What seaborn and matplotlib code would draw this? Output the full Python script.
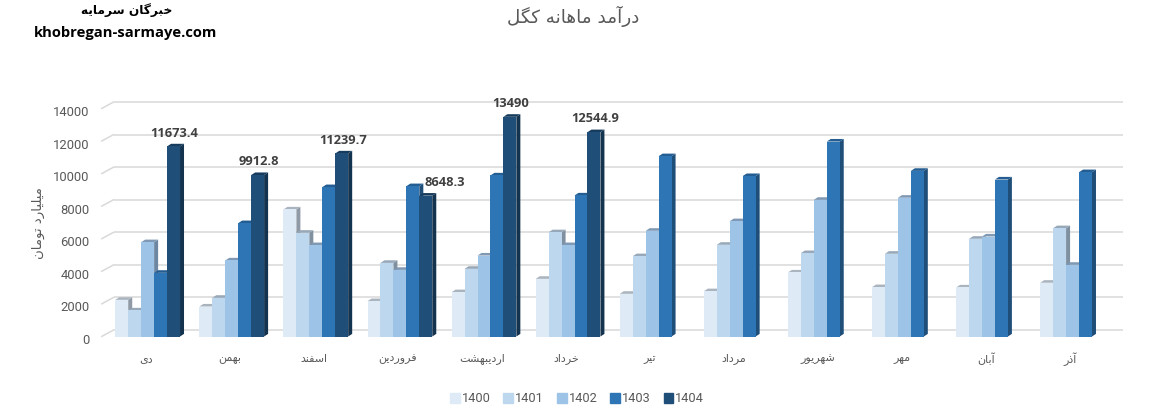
import numpy as np
import pandas as pd
import seaborn as sns
import matplotlib.pyplot as plt
from matplotlib.patches import Polygon, Patch
from matplotlib.transforms import Affine2D, IdentityTransform

months = ["دی", "بهمن", "اسفند", "فروردین", "اردیبهشت", "خرداد", "تیر", "مرداد", "شهریور", "مهر", "آبان", "آذر"]
years = ["1400", "1401", "1402", "1403", "1404"]
v1400 = [2250, 1840, 7800, 2170, 2720, 3540, 2620, 2780, 3930, 3030, 3010, 3300]
v1401 = [1600, 2375, 6370, 4520, 4155, 6400, 4930, 5630, 5120, 5080, 6000, 6650]
v1402 = [5790, 4670, 5610, 4090, 4970, 5610, 6490, 7080, 8390, 8520, 6140, 4400]
v1403 = [3910, 6960, 9170, 9230, 9890, 8660, 11070, 9850, 11970, 10170, 9640, 10090]
v1404 = [11673.4, 9912.8, 11239.7, 8648.3, 13490, 12544.9]
yticks = [0, 2000, 4000, 6000, 8000, 10000, 12000, 14000]

front = ["#deebf7", "#bdd7ee", "#9dc3e6", "#2e75b6", "#1f4e79"]
side = ["#8f9aa6", "#7f90a1", "#6d87a3", "#1f4e79", "#14334f"]
top = ["#aab4bf", "#97a8b8", "#7f99b5", "#245d92", "#173b5c"]
GREY = "#595959"

FORMS = {
    "آ": (0xFE81, 0xFE82), "ا": (0xFE8D, 0xFE8E), "د": (0xFEA9, 0xFEAA),
    "ذ": (0xFEAB, 0xFEAC), "ر": (0xFEAD, 0xFEAE), "و": (0xFEED, 0xFEEE),
    "ب": (0xFE8F, 0xFE90, 0xFE91, 0xFE92), "ت": (0xFE95, 0xFE96, 0xFE97, 0xFE98),
    "خ": (0xFEA5, 0xFEA6, 0xFEA7, 0xFEA8), "س": (0xFEB1, 0xFEB2, 0xFEB3, 0xFEB4),
    "ش": (0xFEB5, 0xFEB6, 0xFEB7, 0xFEB8), "ف": (0xFED1, 0xFED2, 0xFED3, 0xFED4),
    "ل": (0xFEDD, 0xFEDE, 0xFEDF, 0xFEE0), "م": (0xFEE1, 0xFEE2, 0xFEE3, 0xFEE4),
    "ن": (0xFEE5, 0xFEE6, 0xFEE7, 0xFEE8), "ه": (0xFEE9, 0xFEEA, 0xFEEB, 0xFEEC),
    "ی": (0xFBFC, 0xFBFD, 0xFBFE, 0xFBFF), "ک": (0xFB8E, 0xFB8F, 0xFB90, 0xFB91),
    "گ": (0xFB92, 0xFB93, 0xFB94, 0xFB95),
}


# matplotlib has no arabic shaping, so pick the joined forms and reverse
def fa(text):
    out = []
    for i, ch in enumerate(text):
        if ch not in FORMS:
            out.append(ch)
            continue
        prev = text[i - 1] if i > 0 else " "
        nxt = text[i + 1] if i + 1 < len(text) else " "
        join_prev = prev in FORMS and len(FORMS[prev]) == 4
        join_next = nxt in FORMS and len(FORMS[ch]) == 4
        f = FORMS[ch]
        if join_prev and join_next:
            out.append(chr(f[3]))
        elif join_prev:
            out.append(chr(f[1]))
        elif join_next:
            out.append(chr(f[2]))
        else:
            out.append(chr(f[0]))
    return "".join(out)[::-1]


sns.set_style("white")
plt.rcParams["font.family"] = ["Roboto", "DejaVu Sans"]

rows = []
for year, vals in zip(years, [v1400, v1401, v1402, v1403, v1404]):
    for m, v in zip(months, vals):
        rows.append({"month": m, "year": year, "value": v})
df = pd.DataFrame(rows)

W, H = 1166, 417
fig = plt.figure(figsize=(W / 100, H / 100), dpi=100)
ax = fig.add_axes([105.6 / W, (H - 336.5) / H, 1009 / W, 228 / H])

sns.barplot(data=df, x="month", y="value", hue="year", order=months, hue_order=years,
            palette=front, saturation=1, width=0.77, legend=False, linewidth=0, ax=ax)

ax.set_xlim(-0.5, len(months) - 0.5)
ax.set_ylim(0, 14000)
ax.set_xlabel("")
ax.set_ylabel("")
sns.despine(ax=ax, left=True, bottom=True)
ax.set_yticks(yticks)
ax.tick_params(axis="both", length=0)
ax.tick_params(axis="y", labelsize=9.4, labelcolor=GREY, pad=11.7)
ax.set_xticks(range(len(months)))
ax.set_xticklabels([fa(m) for m in months], family="DejaVu Sans", fontsize=8, color=GREY)
ax.tick_params(axis="x", pad=16)
for lab in ax.get_yticklabels():
    lab.set_transform(lab.get_transform() + Affine2D().translate(0, -2.5))
for lab in ax.get_xticklabels():
    lab.set_va("center")
    lab.set_transform(lab.get_transform() + Affine2D().translate(-2, 0))

# back wall: grid pushed back plus the slanted stubs on the left
back = ax.get_yaxis_transform() + Affine2D().translate(8, 6.5)
ax.hlines(yticks, 0, 1, transform=back, color="#d9d9d9", lw=1.1, zorder=0.5, clip_on=False)
for t in yticks:
    x0, y0 = ax.transData.transform((-0.5, t))
    ax.plot([x0 - 4, x0 + 8], [y0, y0 + 6.5], transform=IdentityTransform(),
            color="#d9d9d9", lw=1.1, zorder=0.5, clip_on=False)

# side and top faces worked out from the bars seaborn drew
DX, DY = 4, 2.6
for i, cont in enumerate(ax.containers):
    for bar in cont:
        h = bar.get_height()
        if not np.isfinite(h) or h == 0:
            continue
        xl, xr = bar.get_x(), bar.get_x() + bar.get_width()
        (x1, y1), (x2, y2) = ax.transData.transform([(xl, 0), (xr, h)])
        ax.add_patch(Polygon([(x2, y1), (x2 + DX, y1 + DY), (x2 + DX, y2 + DY), (x2, y2)],
                             transform=IdentityTransform(), fc=side[i], ec="none", zorder=0.8, clip_on=False))
        ax.add_patch(Polygon([(x1, y2), (x1 + DX, y2 + DY), (x2 + DX, y2 + DY), (x2, y2)],
                             transform=IdentityTransform(), fc=top[i], ec="none", zorder=0.9, clip_on=False))

# value labels on the 1404 bars
for k, bar in enumerate(b for b in ax.containers[4] if np.isfinite(b.get_height())):
    txt = f"{v1404[k]:g}"
    off = 19 if months[k] == "فروردین" else 1
    ax.annotate(txt, (bar.get_x() + bar.get_width() / 2, bar.get_height()),
                xytext=(off * 0.72, 9.6), textcoords="offset points", ha="center", va="center",
                family="Open Sans", fontsize=9.3, fontweight="bold", color="#404040", zorder=5)

handles = [Patch(color=c, label=y) for c, y in zip(front, years)]
fig.legend(handles=handles, ncol=5, loc="center", bbox_to_anchor=(577 / W, (H - 399) / H), frameon=False,
           fontsize=9.2, labelcolor=GREY, handlelength=0.78, handleheight=0.78,
           handletextpad=0.15, columnspacing=1.0, borderpad=0, borderaxespad=0)

fig.text(38 / W, (H - 223) / H, fa("میلیارد تومان"), rotation=90, ha="center", va="center",
         family="DejaVu Sans", fontsize=9.5, color=GREY)
fig.text(573 / W, (H - 16) / H, fa("درآمد ماهانه کگل"), ha="center", va="center",
         family="DejaVu Sans", fontsize=13.2, color=GREY)
fig.text(127 / W, (H - 10) / H, fa("خبرگان سرمایه"), ha="center", va="center",
         family="DejaVu Sans", fontsize=8.8, fontweight="bold", color="black")
fig.text(126 / W, (H - 33) / H, "khobregan-sarmaye.com", ha="center", va="center",
         family="Open Sans", fontsize=10.6, fontweight="bold", color="black")

fig.savefig("out.png", dpi=100)
